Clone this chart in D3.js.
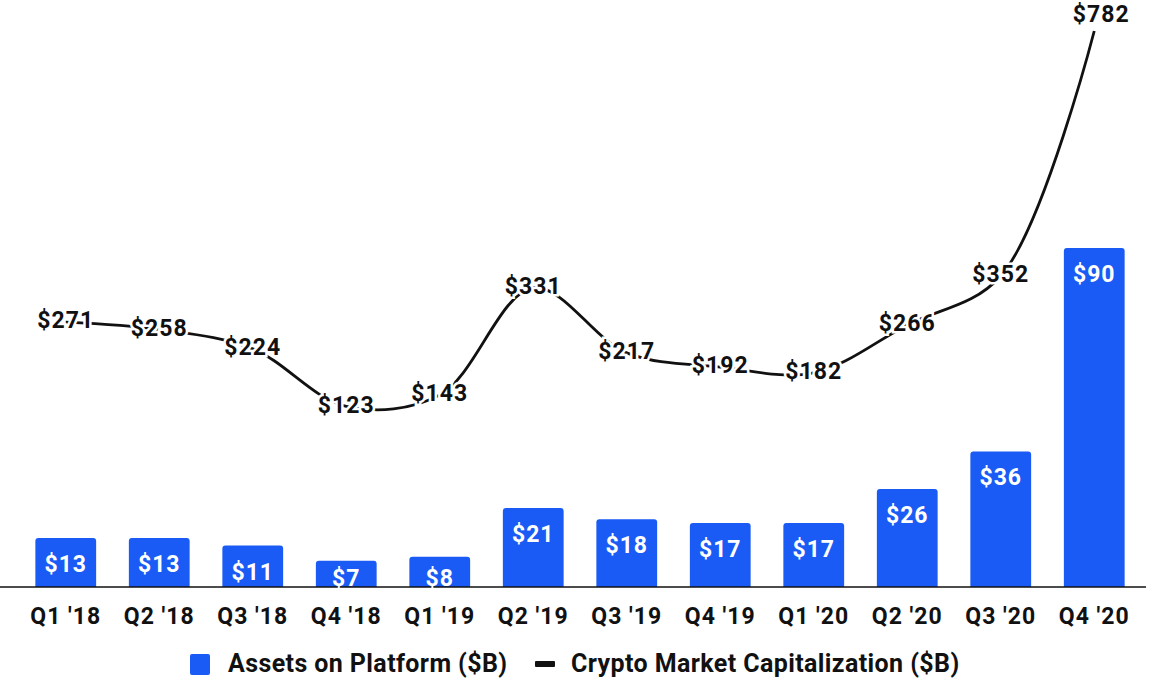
<!DOCTYPE html>
<html><head><meta charset="utf-8">
<script src="https://cdn.jsdelivr.net/npm/d3@7/dist/d3.min.js"></script>
<style>body{margin:0;background:#fff}svg{display:block}</style>
</head><body>
<svg id="c" width="1159" height="681"></svg>
<script>
const categories = ["Q1 '18","Q2 '18","Q3 '18","Q4 '18","Q1 '19","Q2 '19","Q3 '19","Q4 '19","Q1 '20","Q2 '20","Q3 '20","Q4 '20"];
const assets = [13,13,11,7,8,21,18,17,17,26,36,90];
const marketCap = [271,258,224,123,143,331,217,192,182,266,352,782];
const seriesNames = ["Assets on Platform ($B)","Crypto Market Capitalization ($B)"];

const svg = d3.select("#c");
const font = "Roboto, 'Noto Sans', sans-serif";
const blue = "#1a5af5";
const baseY = 587;

const x = d3.scaleBand().domain(categories).range([19, 1141]).paddingInner(0.35).paddingOuter(0.175);
const yBar = d3.scaleLinear().domain([0, 90]).range([baseY, 248]);
const yLine = d3.scaleLinear().domain([0, 782]).range([476.5, 31]);

// bars
const bw = x.bandwidth();
svg.append("g").selectAll("path").data(assets).join("path")
  .attr("fill", blue)
  .attr("d", (d,i) => {
    const x0 = x(categories[i]), x1 = x0 + bw, y0 = yBar(d), r = 3;
    return `M${x0},${baseY}V${y0+r}Q${x0},${y0} ${x0+r},${y0}H${x1-r}Q${x1},${y0} ${x1},${y0+r}V${baseY}Z`;
  });

// axis
const axis = svg.append("g").attr("transform", `translate(0,${baseY})`)
  .call(d3.axisBottom(x).tickSize(0).tickPadding(21));
axis.select(".domain").attr("d", "M0,0H1146").attr("stroke", "#111").attr("stroke-width", 1.5);
axis.selectAll("text").attr("font-family", font).attr("font-size", 23).attr("font-weight", 700)
  .attr("letter-spacing", 1).attr("fill", "#111");

// bar labels
svg.append("g").selectAll("text").data(assets).join("text")
  .attr("x", (d,i) => x(categories[i]) + bw/2)
  .attr("y", d => Math.min(yBar(d) + 28, baseY - 7))
  .attr("text-anchor", "middle").attr("dominant-baseline", "middle")
  .attr("font-family", font).attr("font-size", 23).attr("font-weight", 700)
  .attr("letter-spacing", 1)
  .attr("fill", "#fff")
  .text(d => "$" + d);

// line
const line = d3.line()
  .x((d,i) => x(categories[i]) + bw/2)
  .y(d => yLine(d))
  .curve(d3.curveCatmullRom.alpha(0.5));
svg.append("path").datum(marketCap).attr("d", line)
  .attr("fill", "none").attr("stroke", "#111").attr("stroke-width", 2.8);

// line labels
const last = marketCap.length - 1;
svg.append("g").selectAll("text").data(marketCap).join("text")
  .attr("x", (d,i) => x(categories[i]) + bw/2 + (i === last ? 7 : 0))
  .attr("y", (d,i) => yLine(d) + (i === last ? -15 : 0))
  .attr("text-anchor", "middle").attr("dominant-baseline", "middle")
  .attr("font-family", font).attr("font-size", 23).attr("font-weight", 700)
  .attr("letter-spacing", 1)
  .attr("fill", "#111").attr("stroke", "#fff").attr("stroke-width", 5)
  .attr("paint-order", "stroke")
  .text(d => "$" + d);

// legend
const lg = svg.append("g");
lg.append("rect").attr("x", 190).attr("y", 654).attr("width", 20).attr("height", 21).attr("rx", 2).attr("fill", blue);
lg.append("text").attr("x", 228).attr("y", 665).attr("dominant-baseline", "middle")
  .attr("font-family", font).attr("font-size", 25).attr("font-weight", 700).attr("letter-spacing", 0.4)
  .attr("fill", "#111").text(seriesNames[0]);
lg.append("rect").attr("x", 535).attr("y", 661).attr("width", 20).attr("height", 6).attr("rx", 1).attr("fill", "#111");
lg.append("text").attr("x", 571).attr("y", 665).attr("dominant-baseline", "middle")
  .attr("font-family", font).attr("font-size", 25).attr("font-weight", 700).attr("letter-spacing", 0.4)
  .attr("fill", "#111").text(seriesNames[1]);
</script>
</body></html>
